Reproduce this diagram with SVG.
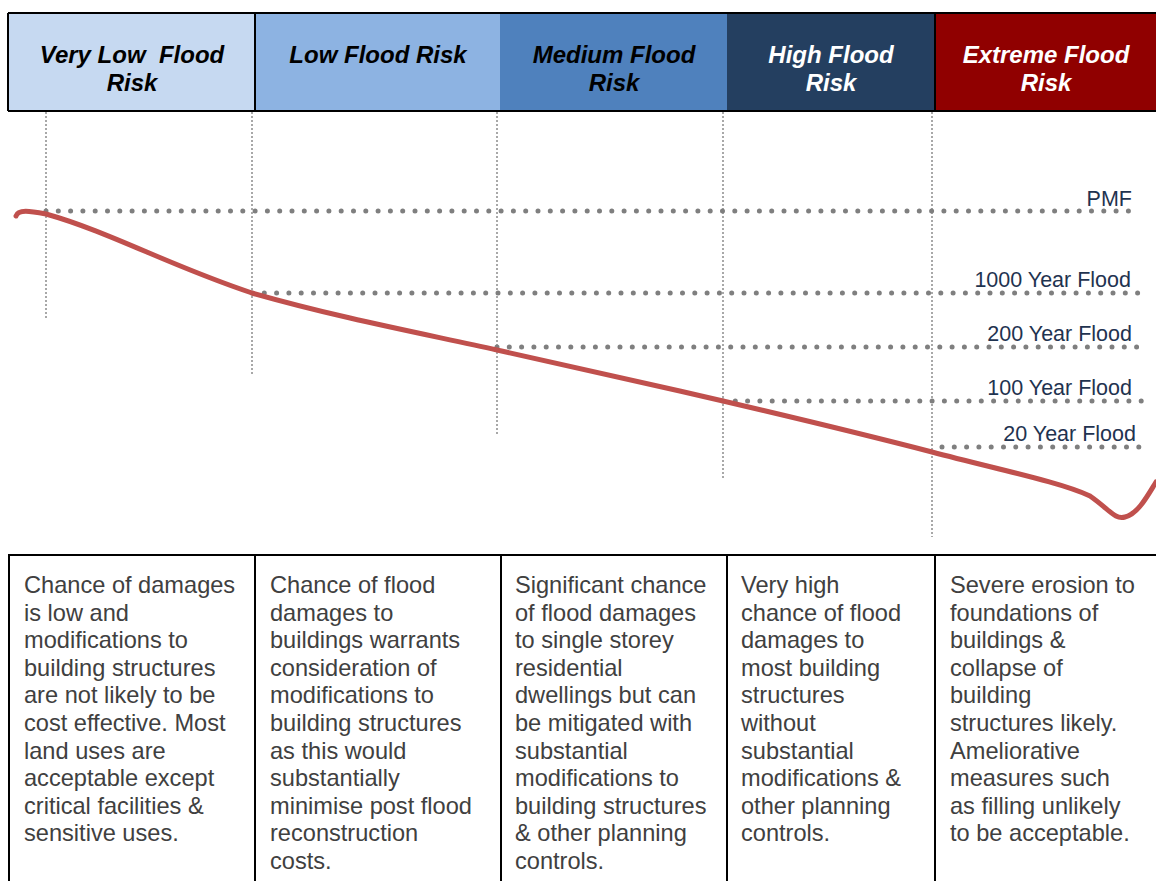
<svg xmlns="http://www.w3.org/2000/svg" width="1156" height="881" viewBox="0 0 1156 881">
<style>
.hd{font-family:"Liberation Sans",Arial,sans-serif;font-size:24px;font-weight:bold;font-style:italic;text-anchor:middle;white-space:pre}
.lb{font-family:"Liberation Sans",Arial,sans-serif;font-size:21.5px;fill:#1f3350;text-anchor:end}
.bd{font-family:"Liberation Sans",Arial,sans-serif;font-size:23.6px;fill:#404040}
.vd{stroke:#8c8c8c;stroke-width:1.5;stroke-dasharray:2 2;fill:none}
.hdot{stroke:#7f7f7f;stroke-width:5;stroke-linecap:round;stroke-dasharray:0 12.3;fill:none}
.sep{stroke:#000;stroke-width:2;fill:none}
</style>
<rect width="1156" height="881" fill="#fff"/>
<g id="header">
<g id="h-verylow"><rect x="8" y="13" width="247" height="98" fill="#c6d9f1"/><text class="hd" x="132" y="63" xml:space="preserve">Very Low  Flood</text><text class="hd" x="132" y="91">Risk</text></g>
<g id="h-low"><rect x="255" y="13" width="245" height="98" fill="#8db3e2"/><text class="hd" x="378" y="63">Low Flood Risk</text></g>
<g id="h-medium"><rect x="500" y="13" width="227" height="98" fill="#4f81bd"/><text class="hd" x="614" y="63">Medium Flood</text><text class="hd" x="614" y="91">Risk</text></g>
<g id="h-high"><rect x="727" y="13" width="208" height="98" fill="#243f60"/><text class="hd" x="831" y="63" fill="#fff">High Flood</text><text class="hd" x="831" y="91" fill="#fff">Risk</text></g>
<g id="h-extreme"><rect x="935" y="13" width="221" height="98" fill="#900000"/><text class="hd" x="1046" y="63" fill="#fff">Extreme Flood</text><text class="hd" x="1046" y="91" fill="#fff">Risk</text></g>
<path class="sep" d="M8 13H1156M8 111H1156M8 13V111M255 13V111M935 13V111"/>
</g>
<g id="connectors">
<path class="vd" d="M46 112V320M252 112V375M497 112V435M723 112V478M932 112V537"/>
<path class="hdot" d="M46 211H1132M252 293H1138M497 347H1141M723 401H1144M942 447H1141"/>
<path d="M16 216C18 209 30 211 46 214C110 232 170 266 252 293C340 318 420 333 497 350C580 368 650 384 723 401C800 419 870 436 932 452C1000 470 1060 482 1090 496C1110 510 1115 520 1125 517C1138 514 1148 495 1156 482" fill="none" stroke="#c0504d" stroke-width="5" stroke-linecap="round"/>
</g>
<g id="labels">
<text class="lb" x="1132" y="206">PMF</text>
<text class="lb" x="1131" y="287">1000 Year Flood</text>
<text class="lb" x="1132" y="341">200 Year Flood</text>
<text class="lb" x="1132" y="395">100 Year Flood</text>
<text class="lb" x="1136" y="441">20 Year Flood</text>
</g>
<g id="table">
<path class="sep" d="M8 555H1156M9 555V881M255 555V881M501 555V881M727 555V881M935 555V881"/>
<g id="c1"><text class="bd" x="24" y="593"><tspan x="24" dy="0">Chance of damages</tspan><tspan x="24" dy="27.6">is low and</tspan><tspan x="24" dy="27.6">modifications to</tspan><tspan x="24" dy="27.6">building structures</tspan><tspan x="24" dy="27.6">are not likely to be</tspan><tspan x="24" dy="27.6">cost effective. Most</tspan><tspan x="24" dy="27.6">land uses are</tspan><tspan x="24" dy="27.6">acceptable except</tspan><tspan x="24" dy="27.6">critical facilities &amp;</tspan><tspan x="24" dy="27.6">sensitive uses.</tspan></text></g>
<g id="c2"><text class="bd" x="270" y="593"><tspan x="270" dy="0">Chance of flood</tspan><tspan x="270" dy="27.6">damages to</tspan><tspan x="270" dy="27.6">buildings warrants</tspan><tspan x="270" dy="27.6">consideration of</tspan><tspan x="270" dy="27.6">modifications to</tspan><tspan x="270" dy="27.6">building structures</tspan><tspan x="270" dy="27.6">as this would</tspan><tspan x="270" dy="27.6">substantially</tspan><tspan x="270" dy="27.6">minimise post flood</tspan><tspan x="270" dy="27.6">reconstruction</tspan><tspan x="270" dy="27.6">costs.</tspan></text></g>
<g id="c3"><text class="bd" x="515" y="593"><tspan x="515" dy="0">Significant chance</tspan><tspan x="515" dy="27.6">of flood damages</tspan><tspan x="515" dy="27.6">to single storey</tspan><tspan x="515" dy="27.6">residential</tspan><tspan x="515" dy="27.6">dwellings but can</tspan><tspan x="515" dy="27.6">be mitigated with</tspan><tspan x="515" dy="27.6">substantial</tspan><tspan x="515" dy="27.6">modifications to</tspan><tspan x="515" dy="27.6">building structures</tspan><tspan x="515" dy="27.6">&amp; other planning</tspan><tspan x="515" dy="27.6">controls.</tspan></text></g>
<g id="c4"><text class="bd" x="741" y="593"><tspan x="741" dy="0">Very high</tspan><tspan x="741" dy="27.6">chance of flood</tspan><tspan x="741" dy="27.6">damages to</tspan><tspan x="741" dy="27.6">most building</tspan><tspan x="741" dy="27.6">structures</tspan><tspan x="741" dy="27.6">without</tspan><tspan x="741" dy="27.6">substantial</tspan><tspan x="741" dy="27.6">modifications &amp;</tspan><tspan x="741" dy="27.6">other planning</tspan><tspan x="741" dy="27.6">controls.</tspan></text></g>
<g id="c5"><text class="bd" x="950" y="593"><tspan x="950" dy="0">Severe erosion to</tspan><tspan x="950" dy="27.6">foundations of</tspan><tspan x="950" dy="27.6">buildings &amp;</tspan><tspan x="950" dy="27.6">collapse of</tspan><tspan x="950" dy="27.6">building</tspan><tspan x="950" dy="27.6">structures likely.</tspan><tspan x="950" dy="27.6">Ameliorative</tspan><tspan x="950" dy="27.6">measures such</tspan><tspan x="950" dy="27.6">as filling unlikely</tspan><tspan x="950" dy="27.6">to be acceptable.</tspan></text></g>
</g>
</svg>
